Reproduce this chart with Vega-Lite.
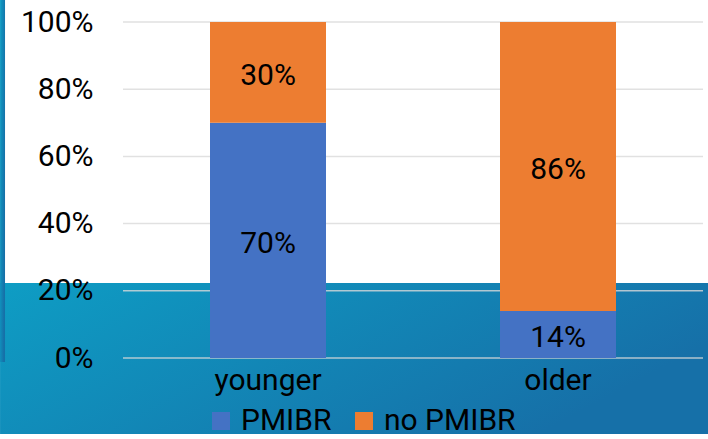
{
  "$schema": "https://vega.github.io/schema/vega-lite/v6.json",
  "width": 580,
  "height": 336,
  "autosize": {"type": "none"},
  "padding": {"left": 123, "top": 22, "right": 5, "bottom": 81},
  "background": "#ffffff",
  "config": {
    "view": {"stroke": null},
    "font": "Roboto",
    "axis": {"labelFont": "Roboto", "labelColor": "#000000"},
    "legend": {"labelFont": "Roboto"}
  },
  "layer": [
    {
      "data": {"values": [
        {"x0": -0.212, "x1": 1.01, "y0": -0.226, "y1": 0.223, "part": "band"},
        {"x0": -0.212, "x1": -0.2034, "y0": -0.012, "y1": 1.0655, "part": "strip"}
      ]},
      "mark": {
        "type": "rect",
        "clip": false,
        "color": {
          "gradient": "linear",
          "x1": 0, "y1": 0, "x2": 1, "y2": 0.4,
          "stops": [
            {"offset": 0, "color": "#0e9dc4"},
            {"offset": 1, "color": "#1670a8"}
          ]
        }
      },
      "encoding": {
        "x": {"field": "x0", "type": "quantitative", "scale": {"domain": [0, 1]}, "axis": null},
        "x2": {"field": "x1"},
        "y": {
          "field": "y0", "type": "quantitative", "scale": {"domain": [0, 1]},
          "axis": {"format": "%", "values": [0, 0.2, 0.4, 0.6, 0.8, 1], "grid": false, "domain": false, "ticks": false, "labelFontSize": 30, "labelPadding": 30, "title": null, "zindex": 1}
        },
        "y2": {"field": "y1"}
      }
    },
    {
      "data": {"values": [{"v": 0}, {"v": 0.2}, {"v": 0.4}, {"v": 0.6}, {"v": 0.8}, {"v": 1}]},
      "mark": {"type": "rule", "color": "#d9d9d9", "strokeWidth": 1.5, "strokeOpacity": 0.8},
      "encoding": {
        "y": {
          "field": "v", "type": "quantitative", "scale": {"domain": [0, 1]},
          "axis": {"format": "%", "values": [0, 0.2, 0.4, 0.6, 0.8, 1], "grid": false, "domain": false, "ticks": false, "labelFontSize": 30, "labelPadding": 30, "title": null, "zindex": 1}
        }
      }
    },
    {
      "data": {
        "values": [
          {"group": "younger", "status": "PMIBR", "pct": 0.70},
          {"group": "younger", "status": "no PMIBR", "pct": 0.30},
          {"group": "older", "status": "PMIBR", "pct": 0.14},
          {"group": "older", "status": "no PMIBR", "pct": 0.86}
        ]
      },
      "transform": [
        {"stack": "pct", "groupby": ["group"], "sort": [{"field": "status", "order": "ascending"}], "offset": "normalize", "as": ["s0", "s1"]},
        {"calculate": "(datum.s0 + datum.s1) / 2", "as": "mid"}
      ],
      "encoding": {
        "x": {
          "field": "group", "type": "nominal", "sort": ["younger", "older"],
          "scale": {"paddingInner": 0.6, "paddingOuter": 0.3},
          "axis": {"labelAngle": 0, "labelFontSize": 30, "labelPadding": 7, "domain": false, "ticks": false, "title": null, "zindex": 1}
        }
      },
      "layer": [
        {
          "mark": {"type": "bar"},
          "encoding": {
            "y": {
              "field": "s0", "type": "quantitative", "scale": {"domain": [0, 1]},
              "axis": {"format": "%", "values": [0, 0.2, 0.4, 0.6, 0.8, 1], "grid": false, "domain": false, "ticks": false, "labelFontSize": 30, "labelPadding": 30, "title": null, "zindex": 1}
            },
            "y2": {"field": "s1"},
            "color": {
              "field": "status", "type": "nominal",
              "scale": {"domain": ["PMIBR", "no PMIBR"], "range": ["#4472C4", "#ED7D31"]},
              "legend": {
                "orient": "none", "legendX": 83, "legendY": 384, "direction": "horizontal",
                "title": null, "symbolType": "square", "symbolSize": 324, "symbolStrokeWidth": 0,
                "labelFontSize": 30, "labelColor": "#000000", "labelOffset": 5, "columnPadding": 17
              }
            }
          }
        },
        {
          "mark": {"type": "text", "fontSize": 30, "color": "#000000", "baseline": "middle", "dy": 4},
          "encoding": {
            "y": {
              "field": "mid", "type": "quantitative", "scale": {"domain": [0, 1]},
              "axis": {"format": "%", "values": [0, 0.2, 0.4, 0.6, 0.8, 1], "grid": false, "domain": false, "ticks": false, "labelFontSize": 30, "labelPadding": 30, "title": null, "zindex": 1}
            },
            "text": {"field": "pct", "type": "quantitative", "format": ".0%"}
          }
        }
      ]
    }
  ],
  "resolve": {"scale": {"x": "independent"}}
}
